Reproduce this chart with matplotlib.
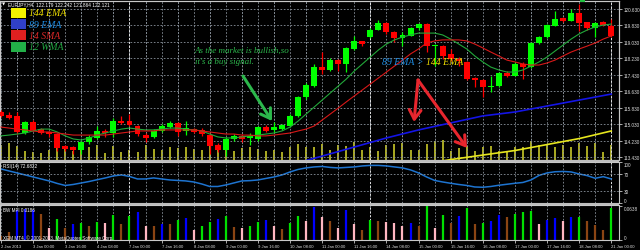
import matplotlib
matplotlib.use("Agg")
import matplotlib.pyplot as plt
from matplotlib.patches import Rectangle, FancyArrowPatch

# EURJPY H4, 2 Jan - 21 Jan 2013
opens = [115.64, 115.48, 115.42, 114.61, 115.16, 114.80, 114.67, 114.56, 113.96, 113.92,
         113.79, 114.16, 114.37, 114.72, 114.61, 115.21, 115.18, 114.97, 114.51, 114.40,
         114.69, 114.92, 115.10, 114.72, 114.80, 114.77, 114.51, 114.03, 113.80, 114.32,
         114.48, 114.35, 114.32, 114.89, 114.76, 114.80, 114.97, 115.42, 116.36, 116.89,
         117.80, 117.68, 118.15, 117.96, 118.69, 119.06, 119.29, 119.62, 119.95, 119.53,
         119.21, 119.33, 119.69, 119.90, 118.82, 118.85, 118.45, 118.20, 118.07, 117.26,
         117.18, 116.83, 116.88, 117.52, 117.39, 117.96, 117.80, 118.96, 119.26, 119.82,
         120.18, 120.06, 120.42, 119.98, 119.69, 119.98, 119.82]
highs = [115.73, 115.62, 115.64, 115.21, 115.24, 114.84, 114.72, 114.61, 114.03, 113.96,
         114.24, 114.51, 114.97, 114.80, 115.32, 115.42, 115.53, 115.00, 114.61, 114.80,
         115.05, 115.21, 115.16, 115.21, 114.85, 114.84, 114.61, 114.12, 114.40, 114.56,
         114.56, 114.61, 114.97, 115.00, 115.13, 115.05, 115.53, 116.42, 117.04, 117.96,
         118.54, 118.24, 118.20, 118.77, 119.30, 119.09, 119.69, 120.11, 119.98, 119.56,
         119.50, 119.74, 119.95, 119.95, 118.92, 118.88, 118.69, 118.28, 118.12, 117.31,
         117.23, 117.39, 117.59, 117.63, 118.04, 118.04, 119.04, 119.33, 119.90, 120.55,
         120.23, 120.63, 120.87, 120.01, 119.98, 120.06, 120.14]
lows = [115.39, 115.29, 114.56, 114.56, 114.72, 114.58, 114.40, 113.75, 113.75, 113.59,
        113.59, 114.08, 114.32, 114.40, 114.40, 115.05, 114.97, 114.48, 114.16, 114.35,
        114.64, 114.85, 114.48, 114.51, 114.61, 114.48, 113.59, 113.67, 113.51, 114.24,
        114.16, 114.03, 114.24, 114.64, 114.64, 114.76, 114.89, 115.37, 116.26, 116.84,
        117.47, 117.63, 117.63, 117.59, 118.65, 118.85, 119.21, 119.60, 119.43, 119.01,
        118.85, 119.30, 119.62, 118.53, 117.88, 118.20, 118.12, 117.88, 117.18, 116.83,
        116.34, 116.59, 116.83, 117.31, 117.36, 117.23, 117.75, 118.93, 119.21, 119.79,
        120.01, 120.03, 119.58, 119.62, 119.26, 119.82, 119.26]
closes = [115.42, 115.32, 114.64, 115.13, 114.77, 114.61, 114.55, 113.87, 113.83, 113.80,
          114.16, 114.43, 114.72, 114.61, 115.19, 115.10, 115.00, 114.56, 114.38, 114.72,
          114.94, 115.10, 114.67, 114.84, 114.67, 114.56, 113.96, 113.80, 114.32, 114.48,
          114.32, 114.48, 114.89, 114.72, 114.89, 115.00, 115.45, 116.34, 116.94, 117.81,
          117.68, 118.15, 117.96, 118.72, 119.06, 118.93, 119.62, 119.95, 119.50, 119.21,
          119.37, 119.69, 119.90, 118.82, 118.88, 118.33, 118.20, 118.11, 117.23, 117.18,
          116.83, 116.91, 117.52, 117.36, 117.96, 117.80, 118.98, 119.28, 119.85, 120.14,
          120.06, 120.42, 119.95, 119.69, 119.94, 119.87, 119.30]

wma12 = [114.47, 114.51, 114.56, 114.61, 114.71, 114.80, 114.80, 114.66, 114.47, 114.32,
         114.27, 114.37, 114.51, 114.61, 114.71, 114.80, 114.85, 114.80, 114.76, 114.76,
         114.80, 114.85, 114.85, 114.80, 114.76, 114.71, 114.56, 114.42, 114.37, 114.37,
         114.42, 114.47, 114.51, 114.56, 114.61, 114.71, 114.90, 115.19, 115.53, 115.87,
         116.21, 116.55, 116.89, 117.23, 117.62, 117.96, 118.30, 118.64, 118.93, 119.13,
         119.27, 119.37, 119.46, 119.46, 119.46, 119.37, 119.17, 118.93, 118.69, 118.35,
         118.06, 117.81, 117.67, 117.57, 117.57, 117.67, 117.86, 118.06, 118.30, 118.59,
         118.88, 119.17, 119.42, 119.61, 119.76, 119.85, 119.90]
sma14 = [114.90, 114.85, 114.80, 114.76, 114.71, 114.66, 114.66, 114.61, 114.56, 114.51,
         114.51, 114.51, 114.51, 114.51, 114.56, 114.61, 114.66, 114.71, 114.71, 114.71,
         114.76, 114.76, 114.76, 114.76, 114.76, 114.71, 114.66, 114.61, 114.56, 114.56,
         114.51, 114.51, 114.47, 114.47, 114.51, 114.56, 114.61, 114.71, 114.80, 114.95,
         115.24, 115.53, 115.82, 116.12, 116.41, 116.70, 116.99, 117.28, 117.57, 117.86,
         118.15, 118.45, 118.69, 118.98, 119.08, 119.13, 119.13, 119.13, 119.08, 118.93,
         118.74, 118.54, 118.35, 118.15, 118.06, 117.96, 117.91, 117.91, 118.01, 118.15,
         118.35, 118.54, 118.69, 118.83, 118.98, 119.17, 119.32]
ema89_bars = [36, 40, 44, 48, 52, 56, 60, 64, 68, 72, 76]
ema89 = [113.06, 113.49, 113.93, 114.37, 114.76, 115.10, 115.44, 115.63, 115.92, 116.21, 116.50]
ema144_bars = [52, 56, 60, 64, 68, 72, 76]
ema144 = [113.06, 113.32, 113.54, 113.76, 114.05, 114.34, 114.71]

volumes = [3750, 4250, 3500, 2250, 2000, 1750, 2500, 3750, 3000, 2250,
           2750, 3250, 3750, 1750, 3500, 2000, 2500, 2000, 3750, 2750,
           2500, 3250, 3000, 3250, 2750, 2500, 3500, 2500, 3000, 2250,
           3000, 3250, 2750, 2250, 2500, 2000, 3250, 4000, 3250, 3250,
           4000, 2500, 3750, 3500, 4500, 2500, 3250, 2250, 3750, 4000,
           4250, 2500, 2500, 4000, 4750, 5000, 2250, 3000, 3500, 2250,
           3250, 3500, 2250, 2250, 3250, 3250, 4750, 3750, 4000, 3250,
           3750, 3250, 4250, 3500, 4250, 2000, 3750]

rsi14 = [82.9, 78.0, 73.2, 68.3, 63.4, 58.5, 53.7, 47.6, 42.7, 45.1,
         48.8, 52.4, 56.8, 61.0, 65.9, 68.3, 64.6, 58.5, 58.5, 61.0,
         58.5, 56.1, 54.9, 53.7, 51.2, 46.3, 40.2, 40.2, 43.9, 48.8,
         53.7, 54.4, 56.1, 59.8, 63.4, 68.3, 75.6, 81.7, 85.4, 87.8,
         89.0, 86.6, 85.4, 86.6, 87.8, 90.2, 91.5, 91.5, 90.2, 87.8,
         85.4, 80.5, 73.2, 63.4, 54.9, 51.2, 48.0, 45.1, 42.7, 39.0,
         38.3, 40.2, 43.2, 45.6, 48.0, 50.0, 56.1, 67.1, 73.2, 76.1,
         76.8, 75.6, 70.7, 66.6, 60.2, 64.1, 58.5]

bw_mfi = [0.0080, 0.0150, 0.0569, 0.0582, 0.0569, 0.0488, 0.0220, 0.0394, 0.0220, 0.0300,
          0.0313, 0.0268, 0.0343, 0.0319, 0.0475, 0.0300, 0.0445, 0.0520, 0.0268, 0.0268,
          0.0300, 0.0300, 0.0375, 0.0413, 0.0193, 0.0268, 0.0343, 0.0394, 0.0456, 0.0250,
          0.0225, 0.0268, 0.0343, 0.0375, 0.0268, 0.0206, 0.0313, 0.0456, 0.0362, 0.0613,
          0.0426, 0.0362, 0.0220, 0.0569, 0.0300, 0.0188, 0.0381, 0.0362, 0.0343, 0.0319,
          0.0268, 0.0319, 0.0257, 0.0632, 0.0225, 0.0469, 0.0319, 0.0445, 0.0600, 0.0300,
          0.0319, 0.0362, 0.0469, 0.0437, 0.0488, 0.0520, 0.0544, 0.0300, 0.0381, 0.0407,
          0.0362, 0.0437, 0.0437, 0.0351, 0.0287, 0.0188, 0.0600]
# g = green, r = fade (brown), b = fake (blue), p = squat (pink)
mfi_state = ("rrbbbrpgrb" "grgpgrgbpr" "brgbpggbgr" "pggbprggpb"
             "prpbprgrpp" "pbrgpgrbgr" "gbbrgggpbb" "pbgrrrg")

price_ticks = [113.430, 114.230, 115.030, 115.830, 116.630, 117.430,
               118.230, 119.030, 119.830, 120.630]
date_labels = ["2 Jan 2013", "3 Jan 00:00", "3 Jan 16:00", "4 Jan 08:00", "7 Jan 00:00",
               "7 Jan 16:00", "8 Jan 08:00", "9 Jan 00:00", "9 Jan 16:00", "10 Jan 08:00",
               "11 Jan 00:00", "11 Jan 16:00", "14 Jan 08:00", "15 Jan 00:00", "15 Jan 16:00",
               "16 Jan 08:00", "17 Jan 00:00", "17 Jan 16:00", "18 Jan 08:00", "21 Jan 00:00"]
week_starts = [16, 46, 76]

W, H = 640, 251
RIGHT = 619
BULL, BEAR = "#00ff00", "#ff0000"
GRID = "#8a929c"
AXIS = "#c8c8c8"
SMALL = "Liberation Sans"
SERIF = "Liberation Serif"
MFI_COLORS = {"g": "#00e000", "r": "#8b4513", "b": "#0000ff", "p": "#ffb6c1"}

fig = plt.figure(figsize=(W / 100, H / 100), dpi=100, facecolor="black")


def fx(px):
    return px / W


def fy(py):
    return 1 - py / H


def panel(top, bottom, **kw):
    a = fig.add_axes([0, fy(bottom), RIGHT / W, (bottom - top) / H], **kw)
    a.set_facecolor("black")
    a.set_xlim(-1 / 8.03, (RIGHT - 1) / 8.03)
    for s in a.spines.values():
        s.set_color(AXIS)
        s.set_linewidth(0.8)
    a.set_xticks(range(0, 77, 4))
    a.set_xticks(range(2, 77, 4), minor=True)
    a.grid(which="both", axis="x", color=GRID, linestyle=(0, (2, 2)), linewidth=0.6)
    a.tick_params(axis="x", which="both", length=0, labelbottom=False)
    a.yaxis.tick_right()
    a.tick_params(axis="y", length=2, width=0.6, color=AXIS, pad=1.5,
                  labelsize=3.3, labelcolor="#e0e0e0")
    for b in week_starts:
        a.axvline(b, color="#e0e0e0", linestyle=(0, (2, 2)), linewidth=0.7)
    return a


# main price panel (volumes drawn underneath on their own scale)
ax_vol = panel(2, 160.5)
ax_vol.set_ylim(0, 39625)
ax_vol.set_yticks([])
ax_vol.grid(False)
ax = panel(2, 160.5, sharex=ax_vol)
ax.patch.set_visible(False)
ax.set_ylim(113.324, 121.018)
ax.set_yticks(price_ticks)
ax.set_yticklabels([f"{p:.3f}" for p in price_ticks], family=SMALL)
ax.grid(axis="y", color=GRID, linestyle=(0, (2, 2)), linewidth=0.6)

bars = range(len(opens))
ax_vol.vlines(bars, 0, volumes, color="#c8c828", linewidth=1.2)

up = [c >= o for o, c in zip(opens, closes)]
cols = [BULL if u else BEAR for u in up]
ax.vlines(bars, lows, highs, color=cols, linewidth=0.9, zorder=3)
bottoms = [min(o, c) for o, c in zip(opens, closes)]
heights = [max(abs(c - o), 0.03) for o, c in zip(opens, closes)]
ax.bar(bars, heights, bottom=bottoms, width=0.74, color=cols, linewidth=0, zorder=3)

ax.plot(bars, wma12, color="#22a83a", linewidth=0.8, zorder=4)
ax.plot(bars, sma14, color="#d81818", linewidth=0.8, zorder=4)
ax.plot(ema89_bars, ema89, color="#1414e6", linewidth=1.2, zorder=4)
ax.plot(ema144_bars, ema144, color="#e6e61e", linewidth=1.2, zorder=4)

# RSI panel
ax_rsi = panel(162.5, 204, sharex=ax_vol)
ax_rsi.set_ylim(0, 101)
ax_rsi.plot(bars, rsi14, color="#1e74d0", linewidth=1.1)
for lvl in (30, 70):
    ax_rsi.axhline(lvl, color=GRID, linestyle=(0, (2, 2)), linewidth=0.6)
ax_rsi.set_yticks([0, 30, 70, 100])
ax_rsi.set_yticklabels(["0", "30", "70", "100"], family=SMALL)
ax_rsi.get_yticklabels()[0].set_va("bottom")
ax_rsi.get_yticklabels()[3].set_va("top")

# BW MFI panel
ax_mfi = panel(206, 241, sharex=ax_vol)
ax_mfi.set_ylim(0, 0.0657)
ax_mfi.vlines(bars, 0, bw_mfi, color=[MFI_COLORS[s] for s in mfi_state], linewidth=1.6)
ax_mfi.set_yticks([0, 0.0638])
ax_mfi.set_yticklabels(["0", "0.0638"], family=SMALL)
ax_mfi.get_yticklabels()[0].set_va("bottom")
ax_mfi.get_yticklabels()[1].set_va("top")
ax_mfi.set_xticklabels(date_labels, family=SMALL)
ax_mfi.tick_params(axis="x", which="major", length=2, width=0.6, color=AXIS,
                   labelbottom=True, labelsize=3.0, labelcolor="#e0e0e0", pad=1)
for t in ax_mfi.get_xticklabels():
    t.set_ha("left")

# panel separators
for top in (160.5, 204):
    fig.add_artist(Rectangle((0, fy(top + 2)), RIGHT / W, 2 / H, transform=fig.transFigure,
                             color="#bdbdbd", linewidth=0))

# header and indicator labels
fig.text(fx(1.5), fy(4.5), "\u25bc", color="white", fontsize=3, va="center", family="DejaVu Sans")
fig.text(fx(8), fy(4.5), "EURJPY,H4  122.179 122.242 121.864 122.121", color="white",
         fontsize=3.4, va="center", family=SMALL)
fig.text(fx(3), fy(166.5), "RSI(14) 72.6822", color="white", fontsize=3.3, va="center", family=SMALL)
fig.text(fx(3), fy(210), "BW MFI 0.0186", color="white", fontsize=3.3, va="center", family=SMALL)
fig.text(fx(3), fy(238), "XEM MT4, \u00a9 2001-2013, MetaQuotes Software Corp.", color="white",
         fontsize=3.3, va="center", family=SMALL)

# small arrow object near the top
fig.add_artist(Rectangle((fx(580), fy(3)), 4.5 / W, 3 / H, transform=fig.transFigure,
                         color="#22c040", linewidth=0))

# legend box
legend = [("144 EMA", "#f2f200", "#f0e000", 8.5),
          ("89 EMA", "#3040c8", "#1e8ee6", 20),
          ("14 SMA", "#e02020", "#e02828", 31),
          ("12 WMA", "#22b048", "#22aa44", 42.5)]
for label, sq, tc, top in legend:
    fig.add_artist(Rectangle((fx(10.5), fy(top + 10)), 15 / W, 10 / H,
                             transform=fig.transFigure, color=sq, linewidth=0))
    fig.text(fx(29), fy(top + 5.5), label, color=tc, fontsize=7, style="italic",
             family=SERIF, va="center")

# annotations
ANN_GREEN = "#2cb84c"
fig.text(fx(195), fy(51), "As the market is bullish,so", color=ANN_GREEN, fontsize=6.5,
         style="italic", family=SERIF, va="center")
fig.text(fx(195), fy(62.5), "it's a buy signal.", color=ANN_GREEN, fontsize=6.5,
         style="italic", family=SERIF, va="center")
fig.text(fx(382), fy(62.5), "89 EMA >", color="#1e8ee6", fontsize=7,
         style="italic", family=SERIF, va="center")
fig.text(fx(425.5), fy(62.5), "144 EMA", color="#f0e000", fontsize=7,
         style="italic", family=SERIF, va="center")


def arrow(p0, p1, color):
    fig.add_artist(FancyArrowPatch((fx(p0[0]), fy(p0[1])), (fx(p1[0]), fy(p1[1])),
                                   transform=fig.transFigure, color=color, linewidth=2.2,
                                   arrowstyle="->,head_length=0.55,head_width=0.35",
                                   mutation_scale=12, shrinkA=0, shrinkB=0))


arrow((243, 77), (272, 122), ANN_GREEN)
arrow((418, 81), (414, 123), "#e8262e")
arrow((418, 81), (467, 149), "#e8262e")

fig.savefig("out.png", dpi=100, facecolor="black")
